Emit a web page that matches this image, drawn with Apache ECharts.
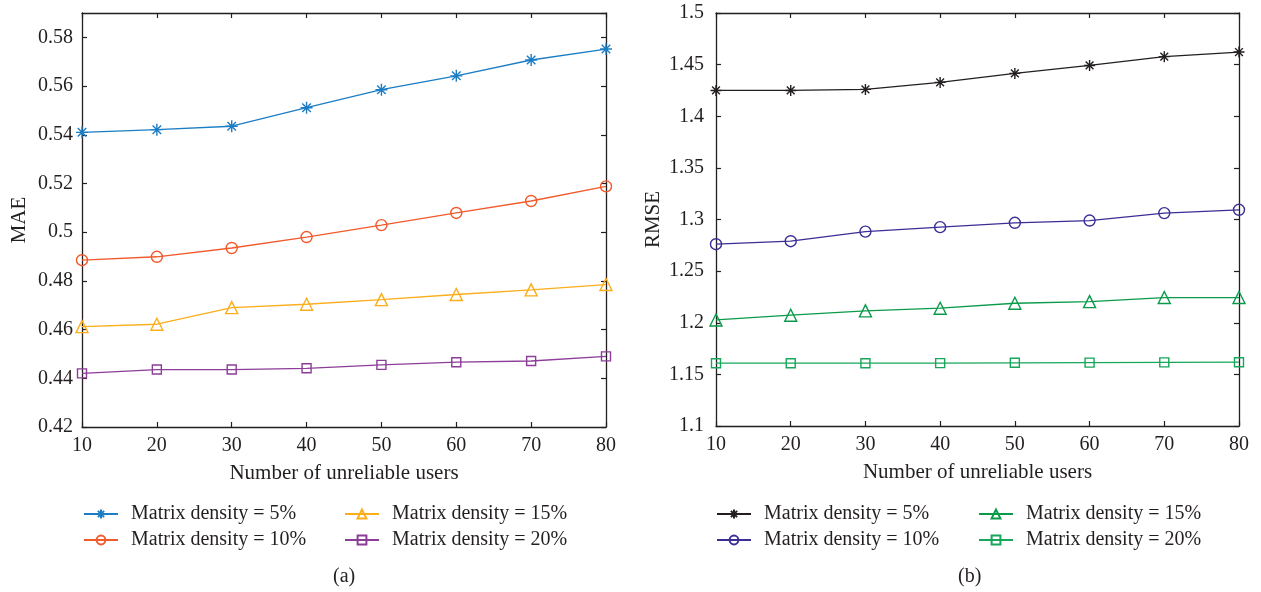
<!DOCTYPE html>
<html>
<head>
<meta charset="utf-8">
<script src="https://cdn.jsdelivr.net/npm/echarts@6/dist/echarts.min.js"></script>
<style>
  html, body { margin: 0; padding: 0; background: #ffffff; }
  #chart { width: 1261px; height: 592px; }
</style>
</head>
<body>
<div id="chart"></div>
<script>
// Number of unreliable users on the x axis
const users = [10, 20, 30, 40, 50, 60, 70, 80];

// Legend texts, one per matrix density
const densityLabels = {
  d5: 'Matrix density = 5%',
  d10: 'Matrix density = 10%',
  d15: 'Matrix density = 15%',
  d20: 'Matrix density = 20%'
};

// (a) MAE per matrix density
const mae5  = [0.5410, 0.5421, 0.5435, 0.5511, 0.5585, 0.5642, 0.5707, 0.5752];
const mae10 = [0.4885, 0.4899, 0.4935, 0.4980, 0.5029, 0.5079, 0.5128, 0.5188];
const mae15 = [0.4612, 0.4622, 0.4690, 0.4704, 0.4723, 0.4744, 0.4763, 0.4785];
const mae20 = [0.4420, 0.4436, 0.4436, 0.4441, 0.4455, 0.4466, 0.4471, 0.4490];

// (b) RMSE per matrix density
const rmse5  = [1.4250, 1.4250, 1.4260, 1.4328, 1.4415, 1.4492, 1.4577, 1.4622];
const rmse10 = [1.2761, 1.2790, 1.2883, 1.2926, 1.2968, 1.2990, 1.3062, 1.3094];
const rmse15 = [1.2027, 1.2073, 1.2115, 1.2141, 1.2189, 1.2205, 1.2244, 1.2244];
const rmse20 = [1.1608, 1.1608, 1.1608, 1.1609, 1.1612, 1.1614, 1.1616, 1.1618];

// Axis ranges and tick steps
const xRange = { min: 10, max: 80, step: 10 };
const maeRange = { min: 0.42, max: 0.59, step: 0.02 };
const rmseRange = { min: 1.1, max: 1.5, step: 0.05 };

const ink = '#231f20';
const serif = '"Liberation Serif", "DejaVu Serif", serif';
const tickFont = 20;
const nameFont = 21;
const asterisk = 'path://M10 0L10 20M0 10L20 10M2.9 2.9L17.1 17.1M2.9 17.1L17.1 2.9';

const pairs = ys => users.map((x, i) => [x, ys[i]]);

// the top label is only drawn when the axis maximum falls on a tick step
const endsOnStep = r => Math.abs(Math.round(r.max / r.step) * r.step - r.max) < 1e-9;

function axisBase(range, gridIndex, position, withLabels, margin) {
  return {
    type: 'value',
    gridIndex,
    position,
    min: range.min,
    max: range.max,
    interval: range.step,
    axisLine: { show: true, onZero: false, lineStyle: { color: ink, width: 1.3 } },
    axisTick: { show: true, inside: true, length: 5, lineStyle: { color: ink, width: 1.2 } },
    axisLabel: {
      show: withLabels,
      color: ink,
      fontFamily: serif,
      fontSize: tickFont,
      margin,
      showMaxLabel: endsOnStep(range)
    },
    splitLine: { show: false }
  };
}

function xAxes(gridIndex) {
  const bottom = axisBase(xRange, gridIndex, 'bottom', true, 9);
  bottom.name = 'Number of unreliable users';
  bottom.nameLocation = 'middle';
  bottom.nameGap = 36;
  bottom.nameTextStyle = { color: ink, fontFamily: serif, fontSize: nameFont };
  const top = axisBase(xRange, gridIndex, 'top', false, 9);
  return [bottom, top];
}

function yAxes(gridIndex, range, title, margin) {
  const left = axisBase(range, gridIndex, 'left', true, margin);
  left.name = title;
  left.nameLocation = 'middle';
  left.nameGap = 52;
  left.nameTextStyle = { color: ink, fontFamily: serif, fontSize: nameFont };
  const right = axisBase(range, gridIndex, 'right', false, margin);
  return [left, right];
}

function lineSeries(name, values, color, symbol, size, axis) {
  return {
    name,
    type: 'line',
    xAxisIndex: axis,
    yAxisIndex: axis,
    data: pairs(values),
    symbol,
    symbolSize: size,
    showSymbol: true,
    lineStyle: { color, width: 1.3 },
    itemStyle: { color: 'transparent', borderColor: color, borderWidth: 1.4 },
    emphasis: { disabled: true },
    z: 3
  };
}

function legendColumn(names, left) {
  return {
    data: names,
    orient: 'vertical',
    left,
    top: 504,
    padding: 0,
    itemGap: 6,
    itemWidth: 34,
    itemHeight: 11,
    selectedMode: false,
    formatter: n => densityLabels[n.replace(/^(mae|rmse)/, 'd')],
    textStyle: { color: ink, fontFamily: serif, fontSize: tickFont, padding: [0, 0, 0, 8] }
  };
}

const chart = echarts.init(document.getElementById('chart'), null, { renderer: 'canvas' });

chart.setOption({
  animation: false,
  backgroundColor: '#ffffff',
  grid: [
    { left: 82, top: 13, width: 524, height: 414 },
    { left: 716, top: 13, width: 523, height: 413 }
  ],
  xAxis: [...xAxes(0), ...xAxes(1)],
  yAxis: [...yAxes(0, maeRange, 'MAE', 9), ...yAxes(1, rmseRange, 'RMSE', 12)],
  legend: [
    legendColumn(['mae5', 'mae10'], 83),
    legendColumn(['mae15', 'mae20'], 344),
    legendColumn(['rmse5', 'rmse10'], 716),
    legendColumn(['rmse15', 'rmse20'], 978)
  ],
  graphic: [
    { type: 'text', left: 333, top: 567, style: { text: '(a)', fill: ink, font: `${tickFont}px ${serif}` } },
    { type: 'text', left: 958, top: 567, style: { text: '(b)', fill: ink, font: `${tickFont}px ${serif}` } }
  ],
  series: [
    lineSeries('mae5', mae5, '#1b7dc4', asterisk, 12, 0),
    lineSeries('mae10', mae10, '#f15a2b', 'circle', 11, 0),
    lineSeries('mae15', mae15, '#fbad1c', 'triangle', 12, 0),
    lineSeries('mae20', mae20, '#8c3d98', 'rect', 9, 0),
    lineSeries('rmse5', rmse5, ink, asterisk, 11, 2),
    lineSeries('rmse10', rmse10, '#3a2e96', 'circle', 11, 2),
    lineSeries('rmse15', rmse15, '#0a9a4a', 'triangle', 12, 2),
    lineSeries('rmse20', rmse20, '#17a65a', 'rect', 9, 2)
  ]
});
</script>
</body>
</html>
